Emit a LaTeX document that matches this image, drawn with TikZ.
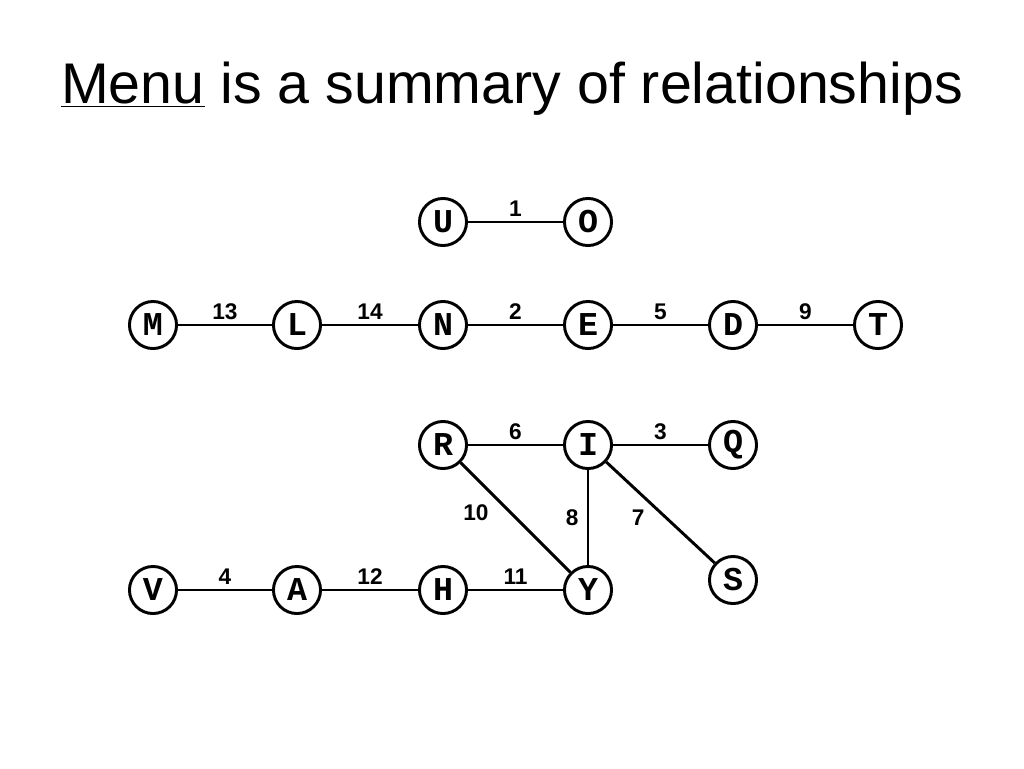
\documentclass[tikz,border=0pt]{standalone}
\usepackage{fontspec}
\setmainfont{Liberation Sans}
\newfontfamily\letterfont{Liberation Mono}

\begin{document}
\begin{tikzpicture}
	  [x=0.75pt,y=-0.75pt,line width=2.2pt,
	   every node/.style={circle,draw,minimum size=35.3pt,inner sep=0pt,font=\letterfont\bfseries\fontsize{25}{25}\selectfont},
	   wt/.style={draw=none,rectangle,minimum size=0pt,inner sep=1pt,text height=12pt,text depth=0pt,font=\bfseries\fontsize{17}{17}\selectfont}]
	\useasboundingbox (0,0) rectangle (1024,768);
	\node[draw=none,rectangle,font=\fontsize{43}{43}\selectfont] (title) at (512,89) {\underline{Menu} is a summary of relationships};

	\node (U) at (443,222) {U};
	\node (O) at (588,222) {O};
	\node (M) at (153,325) {M};
	\node (L) at (297,325) {L};
	\node (N) at (443,325) {N};
	\node (E) at (588,325) {E};
	\node (D) at (733,325) {D};
	\node (T) at (878,325) {T};
	\node (R) at (443,445) {R};
	\node (I) at (588,445) {I};
	\node (Q) at (733,445) {Q};
	\node (S) at (733,580) {S};
	\node (V) at (153,590) {V};
	\node (A) at (297,590) {A};
	\node (H) at (443,590) {H};
	\node (Y) at (588,590) {Y};

	\foreach \from/\to/\w in {U/O/1,M/L/13,L/N/14,N/E/2,E/D/5,D/T/9,R/I/6,I/Q/3,V/A/4,A/H/12,H/Y/11}
	  \draw (\from) -- node[wt,above=2pt] (w\w) {\w} (\to);
	\draw (R) -- node[wt,pos=0.45,left=14pt] (w10) {10} (Y);
	\draw (I) -- node[wt,left=5pt] (w8) {8} (Y);
	\draw (I) -- node[wt,pos=0.55,left=14pt] (w7) {7} (S);
	\end{tikzpicture}
\end{document}
